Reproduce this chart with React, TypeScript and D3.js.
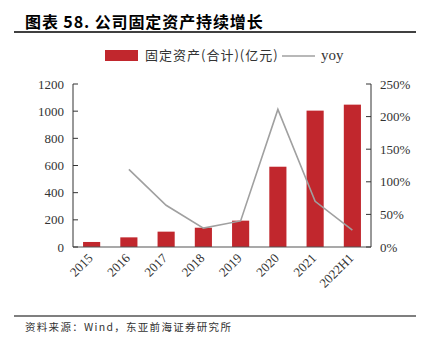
import React from "react";
import * as d3 from "d3";

const categories = ["2015", "2016", "2017", "2018", "2019", "2020", "2021", "2022H1"];
const assets = [37, 71, 113, 142, 194, 591, 1004, 1048];
const yoy: (number | null)[] = [null, 119, 64, 29, 40, 211, 70, 26];
const leftTicks = [0, 200, 400, 600, 800, 1000, 1200];
const rightTicks = [0, 50, 100, 150, 200, 250];

const W = 425, H = 344;
const left = 73, right = 371, top = 84, bottom = 247;
const serif = "'Liberation Serif', 'DejaVu Serif', serif";
const cjk = "'Noto Sans CJK SC', sans-serif";
const red = "#C1272D";

export default function App() {
  const x = d3.scaleBand<string>().domain(categories).range([left, right]).paddingInner(0.54).paddingOuter(0.27);
  const yL = d3.scaleLinear().domain([0, 1200]).range([bottom, top]);
  const yR = d3.scaleLinear().domain([0, 250]).range([bottom, top]);
  const line = d3
    .line<number | null>()
    .defined((d) => d !== null)
    .x((_, i) => (x(categories[i]) as number) + x.bandwidth() / 2)
    .y((d) => yR(d as number));

  return (
    <svg width={W} height={H} style={{ position: "absolute", left: 0, top: 0, background: "#fff" }}>
      <text x={25} y={28} fontFamily={cjk} fontWeight="bold" fontSize={16} letterSpacing={0.9} fill="#000">
        图表 58. 公司固定资产持续增长
      </text>
      <line x1={14} x2={416} y1={32} y2={32} stroke="#000" strokeWidth={1.5} />

      {/* legend */}
      <rect x={105} y={50} width={33} height={11} fill={red} />
      <text x={145} y={60} fontFamily={cjk} fontSize={13} letterSpacing={1} fill="#333">
        固定资产(合计)(亿元)
      </text>
      <line x1={282} x2={315} y1={56} y2={56} stroke="#A0A0A0" strokeWidth={1.5} />
      <text x={321} y={60} fontFamily={serif} fontSize={15} fill="#333">
        yoy
      </text>

      {/* bars */}
      {assets.map((v, i) => (
        <rect key={i} x={x(categories[i])} y={yL(v)} width={x.bandwidth()} height={bottom - yL(v)} fill={red} />
      ))}

      <path d={line(yoy) || ""} fill="none" stroke="#A0A0A0" strokeWidth={1.6} />

      {/* axes */}
      <line x1={left} x2={left} y1={top} y2={bottom} stroke="#333" strokeWidth={1} />
      <line x1={right} x2={right} y1={top} y2={bottom} stroke="#333" strokeWidth={1} />
      <line x1={left} x2={right} y1={bottom} y2={bottom} stroke="#555" strokeWidth={1.2} />
      {leftTicks.map((t) => (
        <g key={"l" + t}>
          <line x1={left} x2={left + 5} y1={yL(t)} y2={yL(t)} stroke="#333" />
          <text x={64} y={yL(t) + 4.5} textAnchor="end" fontFamily={serif} fontSize={13} fill="#333">
            {t}
          </text>
        </g>
      ))}
      {rightTicks.map((t) => (
        <g key={"r" + t}>
          <line x1={right - 5} x2={right} y1={yR(t)} y2={yR(t)} stroke="#333" />
          <text x={380} y={yR(t) + 4.5} textAnchor="start" fontFamily={serif} fontSize={13} fill="#333">
            {t + "%"}
          </text>
        </g>
      ))}
      {categories.map((c) => {
        const cx = (x(c) as number) + x.bandwidth() / 2 + 2;
        const cy = 259;
        return (
          <text
            key={c}
            x={cx}
            y={cy}
            textAnchor="end"
            transform={`rotate(-45 ${cx} ${cy})`}
            fontFamily={serif}
            fontSize={13}
            fill="#333"
          >
            {c}
          </text>
        );
      })}

      <line x1={14} x2={416} y1={316} y2={316} stroke="#000" strokeWidth={1.2} />
      <text x={25} y={331} fontFamily={cjk} fontSize={10.5} letterSpacing={1.3} fill="#333">
        资料来源：Wind，东亚前海证券研究所
      </text>
    </svg>
  );
}
